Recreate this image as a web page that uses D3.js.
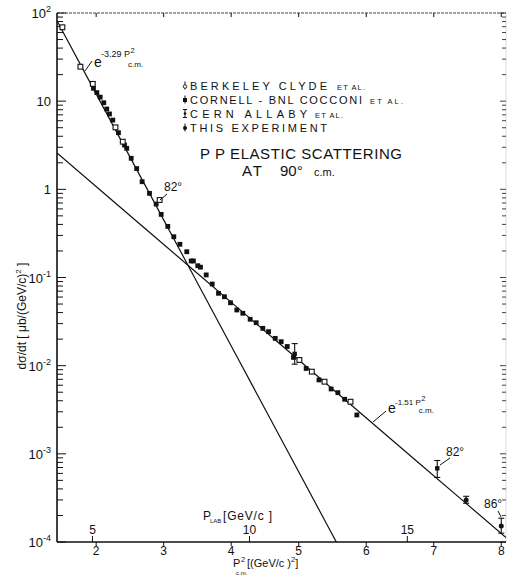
<!DOCTYPE html>
<html><head><meta charset="utf-8">
<script src="https://cdn.jsdelivr.net/npm/d3@7"></script>
<style>
body{margin:0;background:#fff}
svg{display:block}
text{font-family:"Liberation Sans",Arial,sans-serif;fill:#111}
</style>
</head><body>
<svg id="c" width="508" height="576"></svg>
<script>
// ---------- data ----------
const xTicks = [2, 3, 4, 5, 6, 7, 8];
const yExponents = [-4, -3, -2, -1, 0, 1, 2];
const pLabTicks = [5, 10, 15];               // P_LAB [GeV/c]
const protonMass = 0.938;

// Berkeley (open squares)
const berkeleyP = [1.50, 1.767, 1.95, 2.286, 2.394, 2.94, 5.01, 5.194, 5.382, 5.767];
const berkeleyS = [68.9, 24.6, 15.7, 5.05, 3.47, 0.757, 0.0116, 0.00855, 0.00658, 0.0039];

// Cornell-BNL (filled squares)
const cornellP = [1.96, 2.01, 2.06, 2.113, 2.157, 2.197, 2.246, 2.33, 2.42, 2.453, 2.519, 2.60, 2.681, 2.79, 2.889, 2.963, 3.061, 3.15, 3.24, 3.342, 3.407, 3.44, 3.505, 3.545, 3.63, 3.719, 3.812, 3.90, 3.99, 4.083, 4.172, 4.281, 4.37, 4.468, 4.553, 4.652, 4.74, 4.83, 4.923, 5.11, 5.30, 5.48, 5.58, 5.68, 5.861];
const cornellS = [14.0, 12.5, 11.1, 9.6, 8.15, 7.16, 6.1, 4.39, 3.18, 2.92, 2.25, 1.72, 1.22, 0.90, 0.68, 0.52, 0.38, 0.29, 0.238, 0.196, 0.154, 0.154, 0.136, 0.131, 0.107, 0.0843, 0.0662, 0.0605, 0.0517, 0.0428, 0.0393, 0.0336, 0.0307, 0.0265, 0.0243, 0.0204, 0.0187, 0.0165, 0.0124, 0.0093, 0.00689, 0.00544, 0.00494, 0.00416, 0.00276];

// CERN Allaby (error bars)
const cernP  = [4.94, 7.052];
const cernS  = [0.0136, 6.85e-4];
const cernHi = [0.0178, 8.4e-4];
const cernLo = [0.0104, 5.4e-4];

// This experiment
const thisP  = [7.48, 8.0];
const thisS  = [3.0e-4, 1.52e-4];
const thisHi = [3.3e-4, 1.86e-4];
const thisLo = [2.75e-4, 1.26e-4];

// exponential fits  sigma = A * exp(-b p^2)
const fitA = [8710, 22.0];
const fitB = [3.29, 1.51];
const fitLabels = ["-3.29", "-1.51"];

const legendNames = ["BERKELEY  CLYDE", "CORNELL - BNL  COCCONI", "CERN  ALLABY", "THIS  EXPERIMENT"];
const legendEtAl = ["ET AL.", "ET AL.", "ET AL.", ""];

// ---------- layout ----------
const svg = d3.select("#c");
const L = 57, R = 506, T = 13, B = 542;
const x = d3.scaleLinear().domain([1.42, 8.07]).range([L, R]);
const y = d3.scaleLog().domain([1e-4, 1e2]).range([B, T]);
const ink = "#111";

svg.append("defs").append("clipPath").attr("id", "clip")
  .append("rect").attr("x", L).attr("y", T).attr("width", R - L).attr("height", B - T);

// frame lines
const frame = svg.append("g").attr("stroke", ink).attr("fill", "none");
frame.append("line").attr("x1", L).attr("x2", L).attr("y1", T).attr("y2", B).attr("stroke-width", 1.6);
frame.append("line").attr("x1", L).attr("x2", R).attr("y1", B).attr("y2", B).attr("stroke-width", 1.6);
frame.append("line").attr("x1", L).attr("x2", R).attr("y1", T).attr("y2", T).attr("stroke-width", 0.8).attr("stroke-dasharray", "3,1");
frame.append("line").attr("x1", R).attr("x2", R).attr("y1", T).attr("y2", B).attr("stroke-width", 0.4).attr("stroke", "#aaa");

// log ticks (left + right, inside)
const minor = [];
yExponents.forEach(e => { if (e < 2) for (let m = 2; m <= 9; m++) minor.push(m * Math.pow(10, e)); });
const tg = svg.append("g").attr("stroke", ink).attr("stroke-width", 1);
minor.forEach(v => {
  tg.append("line").attr("x1", L).attr("x2", L + 6).attr("y1", y(v)).attr("y2", y(v));
  tg.append("line").attr("x1", R).attr("x2", R - 4).attr("y1", y(v)).attr("y2", y(v)).attr("stroke-width", 0.8);
});
yExponents.forEach(e => {
  const v = Math.pow(10, e);
  tg.append("line").attr("x1", L).attr("x2", L + 9).attr("y1", y(v)).attr("y2", y(v));
  tg.append("line").attr("x1", R).attr("x2", R - 6).attr("y1", y(v)).attr("y2", y(v)).attr("stroke-width", 0.8);
});

// left labels
yExponents.forEach(e => {
  const v = Math.pow(10, e);
  const t = svg.append("text").attr("x", 51).attr("y", y(v) + 5).attr("text-anchor", "end").attr("font-size", 13);
  if (e === 0) { t.text("1"); }
  else if (e === 1) { t.text("10"); }
  else {
    t.append("tspan").text("10");
    t.append("tspan").attr("dy", -6).attr("font-size", 9).text(e < 0 ? "-" + (-e) : String(e));
  }
});

// bottom axis ticks (p^2) downward, top axis ticks
xTicks.forEach(v => {
  tg.append("line").attr("x1", x(v)).attr("x2", x(v)).attr("y1", B).attr("y2", B + 4);
  tg.append("line").attr("x1", x(v)).attr("x2", x(v)).attr("y1", T).attr("y2", T + 4);
  svg.append("text").attr("x", x(v)).attr("y", B + 12.5).attr("text-anchor", "middle").attr("font-size", 12).text(v);
});

// P_LAB secondary ticks
const pcm2 = pl => { const E = Math.sqrt(pl * pl + protonMass * protonMass); return protonMass * (E - protonMass) / 2; };
pLabTicks.forEach(v => {
  const px = x(pcm2(v));
  tg.append("line").attr("x1", px).attr("x2", px).attr("y1", B).attr("y2", B - 6);
  svg.append("text").attr("x", px).attr("y", B - 8).attr("text-anchor", "middle").attr("font-size", 12).text(v);
});
svg.append("text").attr("x", 203).attr("y", 519.5).attr("font-size", 12).text("P");
svg.append("text").attr("x", 210).attr("y", 522.5).attr("font-size", 6).text("LAB");
svg.append("text").attr("x", 223).attr("y", 519.5).attr("font-size", 12).attr("textLength", 49).attr("lengthAdjust", "spacing").text("[GeV/c ]");

// x title
svg.append("text").attr("x", 233).attr("y", 567).attr("font-size", 11).text("P");
svg.append("text").attr("x", 241).attr("y", 561.5).attr("font-size", 7.5).text("2");
svg.append("text").attr("x", 236).attr("y", 574.7).attr("font-size", 6).text("c.m.");
{
  const t = svg.append("text").attr("x", 247).attr("y", 567).attr("font-size", 11);
  t.append("tspan").text("[(GeV/c )");
  t.append("tspan").attr("dy", -5).attr("font-size", 7.5).text("2");
  t.append("tspan").attr("dy", 5).text("]");
}

// y title
{
  const t = svg.append("text").attr("transform", "translate(26,316) rotate(-90)").attr("text-anchor", "middle").attr("font-size", 12);
  t.append("tspan").text("dσ/dt  [ μb/(GeV/c)");
  t.append("tspan").attr("dy", -5).attr("font-size", 8).text("2");
  t.append("tspan").attr("dy", 5).text(" ]");
}

// fit lines
const fits = svg.append("g").attr("clip-path", "url(#clip)");
fitA.forEach((A, i) => {
  const pts = d3.range(0, 11).map(k => { const p = 1.42 + k * (8.07 - 1.42) / 10; return [p, A * Math.exp(-fitB[i] * p)]; });
  fits.append("path").datum(pts)
    .attr("d", d3.line().x(d => x(d[0])).y(d => y(d[1])))
    .attr("fill", "none").attr("stroke", ink).attr("stroke-width", 1.2);
});

// error bars
const eb = svg.append("g").attr("stroke", ink).attr("stroke-width", 1.1);
function errBar(p, hi, lo) {
  eb.append("line").attr("x1", x(p)).attr("x2", x(p)).attr("y1", y(hi)).attr("y2", y(lo));
  eb.append("line").attr("x1", x(p) - 3).attr("x2", x(p) + 3).attr("y1", y(hi)).attr("y2", y(hi));
  eb.append("line").attr("x1", x(p) - 3).attr("x2", x(p) + 3).attr("y1", y(lo)).attr("y2", y(lo));
}
cernP.forEach((p, i) => errBar(p, cernHi[i], cernLo[i]));
thisP.forEach((p, i) => errBar(p, thisHi[i], thisLo[i]));

// markers
const mk = svg.append("g");
cornellP.forEach((p, i) => mk.append("rect").attr("x", x(p) - 2.4).attr("y", y(cornellS[i]) - 2.4).attr("width", 4.8).attr("height", 4.8).attr("fill", ink));
berkeleyP.forEach((p, i) => mk.append("rect").attr("x", x(p) - 2.4).attr("y", y(berkeleyS[i]) - 2.4).attr("width", 4.8).attr("height", 4.8).attr("fill", "#fff").attr("stroke", ink).attr("stroke-width", 1.1));
cernP.forEach((p, i) => mk.append("rect").attr("x", x(p) - 2.2).attr("y", y(cernS[i]) - 2.2).attr("width", 4.4).attr("height", 4.4).attr("fill", ink));
thisP.forEach((p, i) => mk.append("circle").attr("cx", x(p)).attr("cy", y(thisS[i])).attr("r", 2.5).attr("fill", ink));

// annotations
const an = svg.append("g").attr("stroke", ink).attr("stroke-width", 1);
function leader(x1, y1, x2, y2) { an.append("line").attr("x1", x1).attr("y1", y1).attr("x2", x2).attr("y2", y2); }
function expLabel(px, py, i, supDy, supSize) {
  svg.append("text").attr("x", px).attr("y", py).attr("font-size", 14).text("e");
  const sx = px + 7;
  const sup = svg.append("text").attr("x", sx).attr("y", py + supDy).attr("font-size", supSize).text(fitLabels[i] + " P");
  const w = sup.node().getComputedTextLength();
  svg.append("text").attr("x", sx + w + 0.5).attr("y", py + supDy - 4).attr("font-size", 7.5).text("2");
  svg.append("text").attr("x", sx + w - 2).attr("y", py).attr("font-size", 8).text("c.m.");
}
expLabel(94, 67, 0, -10, 9);
leader(85, 71, 92, 61);
expLabel(388, 413, 1, -8, 8);
leader(373, 422, 386, 411);

function degLabel(px, py, txt) {
  svg.append("text").attr("x", px).attr("y", py).attr("font-size", 12).text(txt);
}
degLabel(164, 191, "82°");
leader(160, 200, 167, 194);
degLabel(446, 456, "82°");
leader(440, 465, 450, 458);
degLabel(484, 508, "86°");
leader(498, 511, 501, 517);

// legend
const nameEnd = [327, 362, 307, 327];
const etalX = [337, 370, 315, 0];
const etalW = [28, 33, 28, 0];
legendNames.forEach((n, i) => {
  const cy = 85.5 + i * 14;
  const g = svg.append("g");
  g.append("line").attr("x1", 185).attr("x2", 185).attr("y1", cy - 4).attr("y2", cy + 4).attr("stroke", ink).attr("stroke-width", 1);
  if (i === 0) g.append("circle").attr("cx", 185).attr("cy", cy + 1).attr("r", 1.8).attr("fill", "#fff").attr("stroke", ink).attr("stroke-width", 0.9);
  if (i === 1) g.append("rect").attr("x", 183).attr("y", cy - 1.5).attr("width", 4).attr("height", 4).attr("fill", ink);
  if (i === 2) { g.append("line").attr("x1", 183).attr("x2", 187).attr("y1", cy - 4).attr("y2", cy - 4).attr("stroke", ink);
                 g.append("line").attr("x1", 183).attr("x2", 187).attr("y1", cy + 4).attr("y2", cy + 4).attr("stroke", ink);
                 g.append("circle").attr("cx", 185).attr("cy", cy).attr("r", 1.3).attr("fill", ink); }
  if (i === 3) g.append("circle").attr("cx", 185).attr("cy", cy + 0.5).attr("r", 2).attr("fill", ink);
  svg.append("text").attr("x", 190).attr("y", cy + 4).attr("font-size", 11)
    .attr("textLength", nameEnd[i] - 190).attr("lengthAdjust", "spacing").text(n);
  if (legendEtAl[i]) svg.append("text").attr("x", etalX[i]).attr("y", cy + 4).attr("font-size", 7.5)
    .attr("textLength", etalW[i]).attr("lengthAdjust", "spacing").text(legendEtAl[i]);
});

svg.append("text").attr("x", 200).attr("y", 159).attr("font-size", 15).attr("textLength", 202).attr("lengthAdjust", "spacing").text("P P  ELASTIC  SCATTERING");
svg.append("text").attr("x", 242).attr("y", 176).attr("font-size", 15).attr("textLength", 20).attr("lengthAdjust", "spacing").text("AT");
svg.append("text").attr("x", 280).attr("y", 176).attr("font-size", 15).text("90°");
svg.append("text").attr("x", 314).attr("y", 176).attr("font-size", 11).text("c.m.");
</script>
</body></html>
